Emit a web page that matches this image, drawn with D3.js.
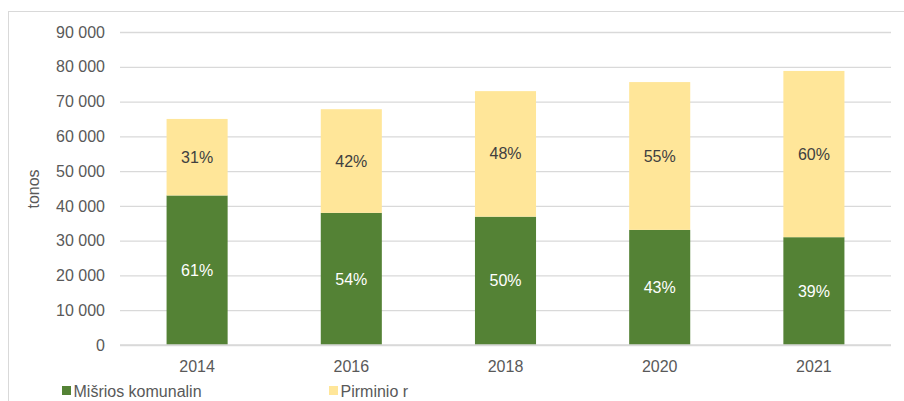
<!DOCTYPE html>
<html>
<head>
<meta charset="utf-8">
<script src="https://cdn.jsdelivr.net/npm/d3@7"></script>
<style>
  html, body { margin: 0; padding: 0; background: #fff; }
  svg { display: block; font-family: "Liberation Sans", Arial, sans-serif; }
</style>
</head>
<body>
<svg id="chart" width="904" height="401"></svg>
<script>
const years = ["2014", "2016", "2018", "2020", "2021"];
const mixedValues = [43000, 38000, 36900, 33100, 31000];
const primaryValues = [22000, 29800, 36100, 42500, 47800];
const mixedLabels = ["61%", "54%", "50%", "43%", "39%"];
const primaryLabels = ["31%", "42%", "48%", "55%", "60%"];
const yTicks = [0, 10000, 20000, 30000, 40000, 50000, 60000, 70000, 80000, 90000];
const seriesNames = ["Mišrios komunalin", "Pirminio r"];
const yTitle = "tonos";

const svg = d3.select("#chart");
const green = "#548235", yellow = "#FFE699";

// frame
svg.append("rect").attr("x", 8.5).attr("y", 11.5).attr("width", 920).attr("height", 420)
  .attr("fill", "none").attr("stroke", "#d9d9d9").attr("stroke-width", 1);

const x = d3.scaleBand().domain(years).range([120, 891]).paddingInner(0.604).paddingOuter(0.302);
const y = d3.scaleLinear().domain([0, 90000]).range([345, 32]);

const fmt = v => d3.format(",")(v).replace(/,/g, " ");

// gridlines
const yAxis = d3.axisLeft(y).tickValues(yTicks).tickSize(-(891 - 120)).tickFormat(fmt).tickPadding(15);
const gy = svg.append("g").attr("transform", "translate(120,0)").call(yAxis);
gy.select(".domain").remove();
gy.selectAll(".tick line").attr("stroke", "#d9d9d9").attr("stroke-width", 1.3);
gy.selectAll(".tick text").attr("fill", "#595959").attr("font-size", 16).attr("font-family", "Liberation Sans, Arial, sans-serif");

// bars
const data = years.map((yr, i) => ({ yr, m: mixedValues[i], p: primaryValues[i], ml: mixedLabels[i], pl: primaryLabels[i] }));
const g = svg.append("g");
g.selectAll("rect.m").data(data).join("rect")
  .attr("x", d => x(d.yr)).attr("width", x.bandwidth())
  .attr("y", d => y(d.m)).attr("height", d => y(0) - y(d.m)).attr("fill", green);
g.selectAll("rect.p").data(data).join("rect")
  .attr("x", d => x(d.yr)).attr("width", x.bandwidth())
  .attr("y", d => y(d.m + d.p)).attr("height", d => y(d.m) - y(d.m + d.p)).attr("fill", yellow);

g.selectAll("text.ml").data(data).join("text")
  .attr("x", d => x(d.yr) + x.bandwidth() / 2).attr("y", d => (y(0) + y(d.m)) / 2)
  .attr("dy", "0.35em").attr("text-anchor", "middle").attr("font-size", 16).attr("fill", "#ffffff")
  .text(d => d.ml);
g.selectAll("text.pl").data(data).join("text")
  .attr("x", d => x(d.yr) + x.bandwidth() / 2).attr("y", d => (y(d.m) + y(d.m + d.p)) / 2)
  .attr("dy", "0.35em").attr("text-anchor", "middle").attr("font-size", 16).attr("fill", "#404040")
  .text(d => d.pl);

// x axis
const xAxis = d3.axisBottom(x).tickSize(0).tickPadding(0);
const gx = svg.append("g").attr("transform", "translate(0,345)").call(xAxis);
gx.select(".domain").attr("stroke", "#d9d9d9").attr("stroke-width", 1.3).attr("d", "M120,0H891");
gx.selectAll(".tick text").attr("fill", "#595959").attr("font-size", 16)
  .attr("font-family", "Liberation Sans, Arial, sans-serif").attr("dy", null).attr("y", 26.5);

// y title
svg.append("text").attr("transform", "translate(38.5,189) rotate(-90)")
  .attr("text-anchor", "middle").attr("font-size", 16).attr("fill", "#595959").text(yTitle);

// legend
const legendX = [62, 329];
const lg = svg.append("g").selectAll("g").data(seriesNames).join("g")
  .attr("transform", (d, i) => `translate(${legendX[i]},0)`);
lg.append("rect").attr("x", 0).attr("y", 386).attr("width", 9).attr("height", 9)
  .attr("fill", (d, i) => i === 0 ? green : yellow);
lg.append("text").attr("x", 11.5).attr("y", 396.5).attr("font-size", 16).attr("fill", "#595959").text(d => d);
</script>
</body>
</html>
